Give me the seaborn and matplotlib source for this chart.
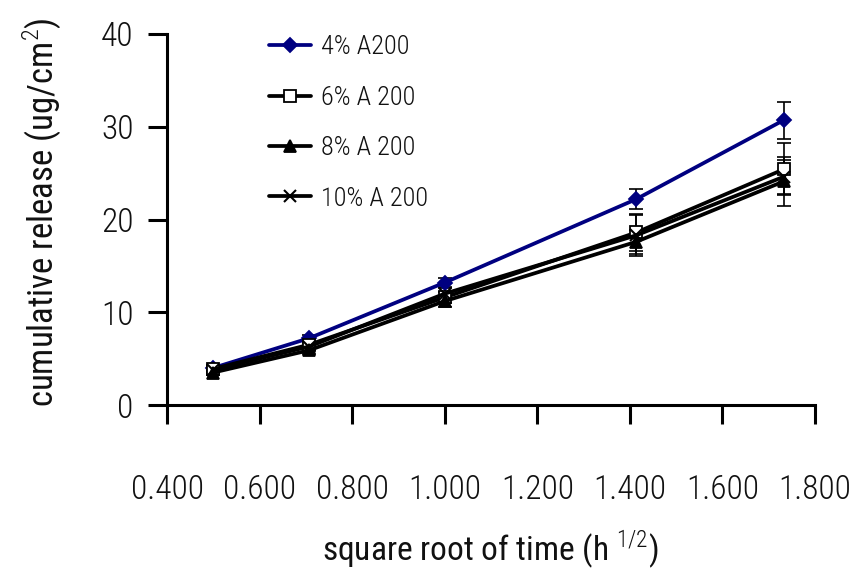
import matplotlib
matplotlib.use("Agg")
import matplotlib.pyplot as plt
import seaborn as sns
import pandas as pd
from matplotlib import font_manager

sns.set_style("white")
names = {f.name for f in font_manager.fontManager.ttflist}
fam = [n for n in ["Liberation Sans Narrow", "Roboto Condensed", "Open Sans Condensed"] if n in names]
plt.rcParams['font.family'] = fam + ['DejaVu Sans']
plt.rcParams['font.weight'] = 'light'
plt.rcParams['mathtext.fontset'] = 'custom'
plt.rcParams['mathtext.rm'] = (fam[0] if fam else 'DejaVu Sans') + ':light'

x_vals = [0.5, 0.707, 1.0, 1.414, 1.732]
series_names = ["4% A200", "6% A 200", "8% A 200", "10% A 200"]
y_4 = [4.0, 7.2, 13.2, 22.2, 30.7]
y_6 = [3.9, 6.5, 11.6, 18.6, 25.4]
y_8 = [3.5, 5.9, 11.2, 17.6, 24.1]
y_10 = [3.8, 6.3, 12.0, 18.3, 24.6]
e_4 = [0.3, 0.4, 0.5, 1.1, 2.0]
e_6 = [0.3, 0.4, 0.6, 2.0, 2.8]
e_8 = [0.3, 0.4, 0.6, 1.3, 2.6]
e_10 = [0.3, 0.4, 0.6, 2.2, 1.8]
x_ticks = [0.4, 0.6, 0.8, 1.0, 1.2, 1.4, 1.6, 1.8]
y_ticks = [0, 10, 20, 30, 40]

ys = [y_4, y_6, y_8, y_10]
es = [e_4, e_6, e_8, e_10]
colors = ["#000080", "black", "black", "black"]
markers = ["D", "s", "^", "x"]
mfaces = ["#000080", "white", "black", "black"]
msizes = [7, 9, 9, 9]

rows = []
for n, y in zip(series_names, ys):
    for xv, yv in zip(x_vals, y):
        rows.append({"x": xv, "y": yv, "series": n})
df = pd.DataFrame(rows)

fig = plt.figure(figsize=(8.55, 5.7), dpi=100)
ax = fig.add_axes([167/855, 1-405/570, (815-167)/855, (405-34)/570])

for n, y, e in zip(series_names, ys, es):
    ax.errorbar(x_vals, y, yerr=e, fmt="none", ecolor="black", elinewidth=1.2, capsize=5, capthick=1.2, zorder=2)
for i, (n, c, m, mf, ms) in enumerate(zip(series_names, colors, markers, mfaces, msizes)):
    sub = df[df.series == n]
    sns.lineplot(data=sub, x="x", y="y", ax=ax, color=c, marker=m, markersize=ms,
                 markerfacecolor=mf, markeredgecolor=c, markeredgewidth=1.3 if m != "x" else 1.5,
                 linewidth=2.7, label=n, zorder=3 + i)

ax.set_xlim(0.4, 1.8)
ax.set_ylim(0, 40)
ax.set_xticks(x_ticks)
ax.set_xticklabels([f"{v:.3f}" for v in x_ticks])
ax.set_yticks(y_ticks)
ax.set_yticklabels([str(v) for v in y_ticks])
for s in ["top", "right"]:
    ax.spines[s].set_visible(False)
for s in ["left", "bottom"]:
    ax.spines[s].set_linewidth(2.2)
    ax.spines[s].set_color("black")
ax.tick_params(axis="both", bottom=True, left=True, direction="out", length=14, width=2.2,
               colors="black", labelsize=24)
ax.tick_params(axis="x", pad=36)
ax.tick_params(axis="y", pad=10)
ax.set_xlabel("square root of time (h $^{1/2}$)", fontsize=24, color="#111111", va="center")
ax.set_ylabel("cumulative release (ug/cm$^{2}$)", fontsize=25, color="#111111", va="center")
ax.xaxis.set_label_coords((490 - 167) / 648, (405 - 550) / 371)
ax.yaxis.set_label_coords((42 - 167) / 648, (405 - 212) / 371)
for t in ax.get_xticklabels() + ax.get_yticklabels():
    t.set_color("#111111")

leg = ax.legend(loc="upper left", bbox_to_anchor=(0.12, 1.06), frameon=False, fontsize=19,
                handlelength=1.6, labelspacing=1.0, handletextpad=0.4)
for t in leg.get_texts():
    t.set_color("#111111")
ax.grid(False)
fig.savefig("out.png", dpi=100)
print(fam)
